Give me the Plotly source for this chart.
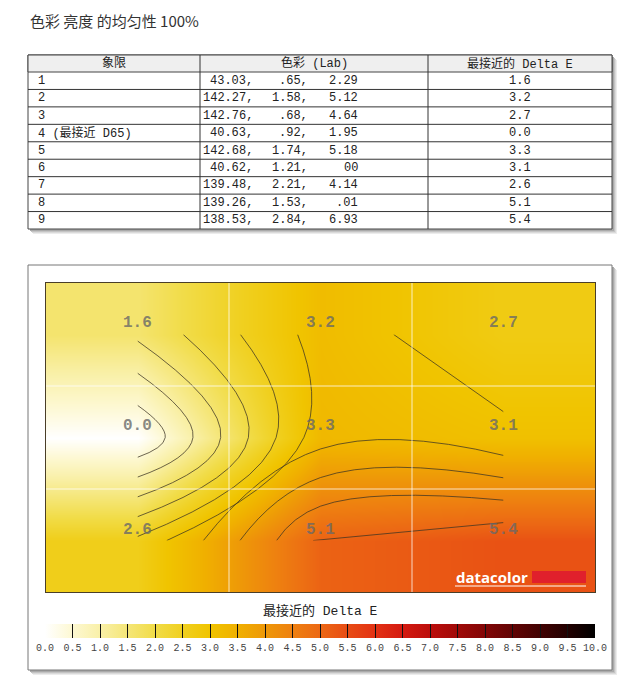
import plotly.graph_objects as go

# ---------------- data ----------------
title_text = "色彩 亮度 的均匀性 100%"
table_header = ["象限", "色彩 (Lab)", "最接近的 Delta E"]
quadrants = ["1", "2", "3", "4 (最接近 D65)", "5", "6", "7", "8", "9"]
lab_L = ["43.03", "142.27", "142.76", "40.63", "142.68", "40.62", "139.48", "139.26", "138.53"]
lab_a = [".65", "1.58", ".68", ".92", "1.74", "1.21", "2.21", "1.53", "2.84"]
lab_b = ["2.29", "5.12", "4.64", "1.95", "5.18", "00", "4.14", ".01", "6.93"]
delta_e = [1.6, 3.2, 2.7, 0.0, 3.3, 3.1, 2.6, 5.1, 5.4]
col_centers = [0.5, 1.5, 2.5]
row_centers = [0.5, 1.5, 2.5]
cbar_title = "最接近的 Delta E"
cbar_ticks = [0.0, 0.5, 1.0, 1.5, 2.0, 2.5, 3.0, 3.5, 4.0, 4.5, 5.0,
              5.5, 6.0, 6.5, 7.0, 7.5, 8.0, 8.5, 9.0, 9.5, 10.0]

W, H = 640, 688


def X(px):
    return px / W


def Y(py):
    return 1 - py / H


colorscale = [
    [0.00, "#ffffff"], [0.05, "#fdf8d2"], [0.10, "#f9f0a8"], [0.15, "#f5e678"],
    [0.20, "#f1dc48"], [0.25, "#f0d020"], [0.30, "#f0c400"], [0.35, "#f0b000"],
    [0.40, "#ee9808"], [0.45, "#ee8010"], [0.50, "#ec6814"], [0.55, "#e84c14"],
    [0.60, "#e33214"], [0.65, "#d41a10"], [0.70, "#bc0e0c"], [0.75, "#a00a08"],
    [0.80, "#820606"], [0.85, "#620404"], [0.90, "#420202"], [0.95, "#220000"],
    [1.00, "#000000"],
]

z = [delta_e[0:3], delta_e[3:6], delta_e[6:9]]

fig = go.Figure()

fig.add_trace(go.Heatmap(
    z=z, x=col_centers, y=row_centers, zsmooth="best",
    colorscale=colorscale, zmin=0, zmax=10, hoverinfo="skip",
    colorbar=dict(
        orientation="h", x=0.5, xanchor="center", y=Y(624), yanchor="top",
        lenmode="pixels", len=550, thickness=14, thicknessmode="pixels",
        xpad=0, ypad=0, outlinewidth=0,
        tickmode="array", tickvals=cbar_ticks,
        ticktext=[f"{t:.1f}" for t in cbar_ticks],
        ticks="inside", ticklen=14, tickwidth=1, tickcolor="#111111",
        tickfont=dict(family="Liberation Mono, monospace", size=10, color="#444444"),
    ),
))

fig.add_trace(go.Contour(
    z=z, x=col_centers, y=row_centers,
    contours=dict(coloring="none", start=0.5, end=9.5, size=0.5),
    line=dict(color="rgba(60,52,36,0.75)", width=1, smoothing=1.3),
    showscale=False, hoverinfo="skip",
))

shapes = []
annotations = []

# title
annotations.append(dict(x=X(28), y=Y(20), xref="paper", yref="paper", xanchor="left",
                        yanchor="middle", showarrow=False, text=title_text,
                        font=dict(family="Noto Sans CJK SC", size=15, color="#333333")))

# ---------------- table ----------------
tl, tr, tt = 28, 612, 55
hdr_b = 72
row_h = (229 - 72) / 9
tb = hdr_b + row_h * 9
col_edges = [tl, 200, 428, tr]

for off, col in [(5, "#ececec"), (4, "#dadada"), (3, "#c4c4c4"), (2, "#aaaaaa")]:
    shapes.append(dict(type="rect", xref="paper", yref="paper",
                       x0=X(tl + off), x1=X(tr + off), y0=Y(tt + off), y1=Y(tb + off),
                       fillcolor=col, line=dict(width=0)))
shapes.append(dict(type="rect", xref="paper", yref="paper", x0=X(tl), x1=X(tr),
                   y0=Y(tt), y1=Y(tb), fillcolor="white", line=dict(color="#444444", width=1)))
shapes.append(dict(type="rect", xref="paper", yref="paper", x0=X(tl), x1=X(tr),
                   y0=Y(tt), y1=Y(hdr_b), fillcolor="#efefef", line=dict(color="#444444", width=1)))
for i in range(1, 9):
    yy = hdr_b + row_h * i
    shapes.append(dict(type="line", xref="paper", yref="paper", x0=X(tl), x1=X(tr),
                       y0=Y(yy), y1=Y(yy), line=dict(color="#333333", width=1)))
for cx in col_edges[1:3]:
    shapes.append(dict(type="line", xref="paper", yref="paper", x0=X(cx), x1=X(cx),
                       y0=Y(tt), y1=Y(tb), line=dict(color="#333333", width=1)))

tfont = dict(family="Liberation Mono, Noto Sans CJK SC, monospace", size=12, color="#222222")
hcenters = [(col_edges[0] + col_edges[1]) / 2, (col_edges[1] + col_edges[2]) / 2,
            (col_edges[2] + col_edges[3]) / 2]
for txt, cx in zip(table_header, hcenters):
    annotations.append(dict(x=X(cx), y=Y((tt + hdr_b) / 2), xref="paper", yref="paper",
                            xanchor="center", yanchor="middle", showarrow=False,
                            text=txt, font=tfont))
for i in range(9):
    cy = hdr_b + row_h * (i + 0.5)
    annotations.append(dict(x=X(36), y=Y(cy), xref="paper", yref="paper", xanchor="left",
                            yanchor="middle", showarrow=False, text=quadrants[i], font=tfont))
    for val, xr in [(lab_L[i] + ",", 255), (lab_a[i] + ",", 310), (lab_b[i], 360)]:
        annotations.append(dict(x=X(xr), y=Y(cy), xref="paper", yref="paper",
                                xanchor="right", yanchor="middle", showarrow=False,
                                text=val, font=tfont))
    annotations.append(dict(x=X(hcenters[2]), y=Y(cy), xref="paper", yref="paper",
                            xanchor="center", yanchor="middle", showarrow=False,
                            text=f"{delta_e[i]:.1f}", font=tfont))

# ---------------- chart frame ----------------
fl, fr, ft, fb = 28, 612, 265, 670
for off, col in [(5, "#ececec"), (4, "#dadada"), (3, "#c4c4c4"), (2, "#aaaaaa")]:
    shapes.append(dict(type="rect", xref="paper", yref="paper", layer="below",
                       x0=X(fl + off), x1=X(fr + off), y0=Y(ft + off), y1=Y(fb + off),
                       fillcolor=col, line=dict(width=0)))
shapes.append(dict(type="rect", xref="paper", yref="paper", layer="below",
                   x0=X(fl), x1=X(fr), y0=Y(ft), y1=Y(fb),
                   fillcolor="white", line=dict(color="#777777", width=1)))

# grid lines inside the plot
for v in [1, 2]:
    shapes.append(dict(type="line", xref="x", yref="y", x0=v, x1=v, y0=0, y1=3,
                       line=dict(color="rgba(255,255,255,0.5)", width=1.5)))
    shapes.append(dict(type="line", xref="x", yref="y", x0=0, x1=3, y0=v, y1=v,
                       line=dict(color="rgba(255,255,255,0.5)", width=1.5)))

# value labels
for r in range(3):
    for c in range(3):
        annotations.append(dict(x=col_centers[c], y=row_centers[r], xref="x", yref="y",
                                showarrow=False, yshift=11, text=f"{z[r][c]:.1f}",
                                font=dict(family="Liberation Mono, monospace", size=16,
                                          color="rgba(105,105,105,0.8)", weight="bold")))

# datacolor logo
shapes.append(dict(type="rect", xref="paper", yref="paper", x0=X(532), x1=X(586),
                   y0=Y(583), y1=Y(571), fillcolor="#e0202c", line=dict(width=0)))
shapes.append(dict(type="line", xref="paper", yref="paper", x0=X(455), x1=X(586),
                   y0=Y(586), y1=Y(586), line=dict(color="white", width=1)))
annotations.append(dict(x=X(454), y=Y(577), xref="paper", yref="paper", xanchor="left",
                        yanchor="middle", showarrow=False, text="datacolor",
                        font=dict(family="Open Sans", size=15, color="white", weight="bold")))

# colorbar title
annotations.append(dict(x=X(320), y=Y(611), xref="paper", yref="paper", xanchor="center",
                        yanchor="middle", showarrow=False, text=cbar_title,
                        font=dict(family="Liberation Mono, Noto Sans CJK SC, monospace",
                                  size=13, color="#222222")))

fig.update_layout(
    width=W, height=H, margin=dict(l=0, r=0, t=0, b=0),
    paper_bgcolor="white", plot_bgcolor="rgba(0,0,0,0)",
    xaxis=dict(domain=[X(46), X(595)], range=[0, 3], showgrid=False, zeroline=False,
               showticklabels=False, ticks="", showline=True, mirror=True,
               linecolor="#4a3e28", linewidth=1, fixedrange=True),
    yaxis=dict(domain=[Y(592), Y(283)], range=[3, 0], showgrid=False, zeroline=False,
               showticklabels=False, ticks="", showline=True, mirror=True,
               linecolor="#4a3e28", linewidth=1, fixedrange=True),
    shapes=shapes, annotations=annotations, showlegend=False,
)

fig.write_html("out.html")
